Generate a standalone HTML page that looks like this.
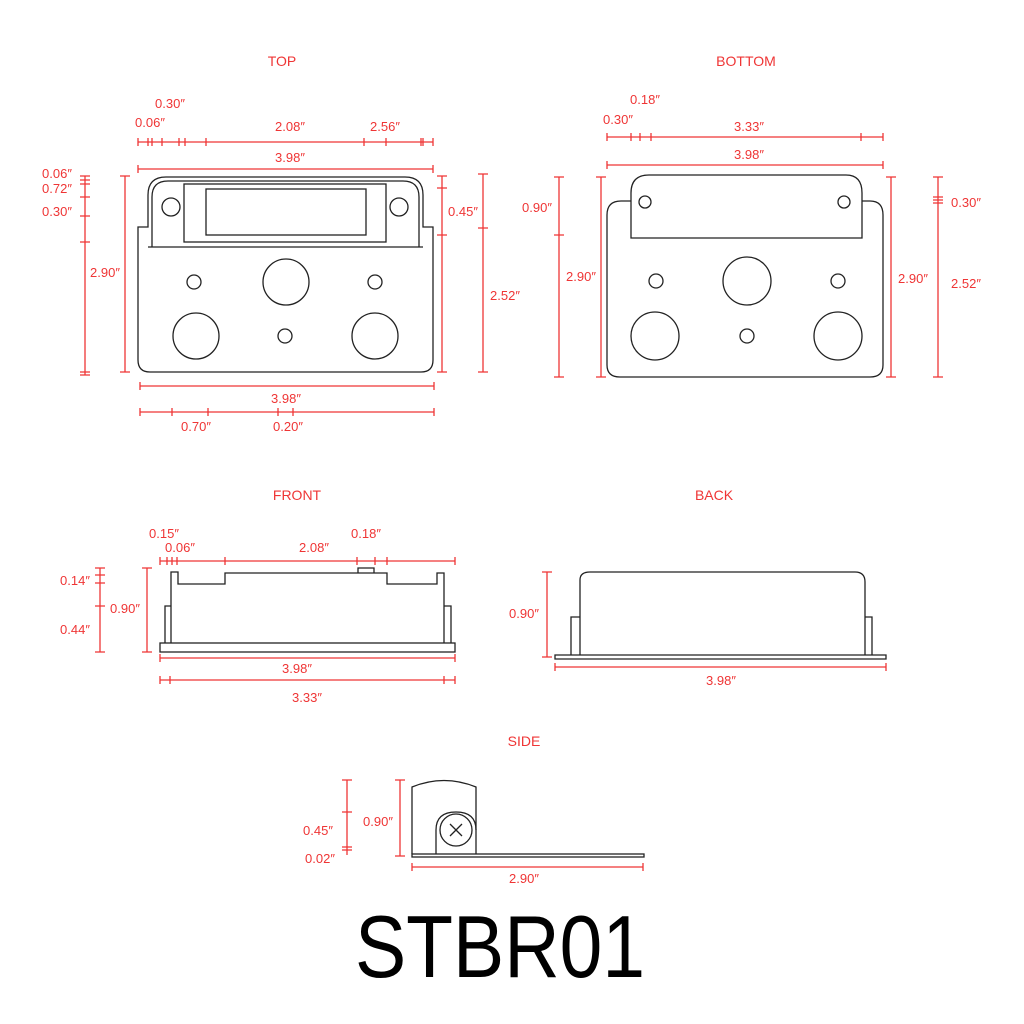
<!DOCTYPE html>
<html><head><meta charset="utf-8"><style>
html,body{margin:0;padding:0;background:#fff;width:1024px;height:1024px;overflow:hidden}
svg{display:block}
.r{stroke:#ef3535;stroke-width:1.3;fill:none}
.k{stroke:#222;stroke-width:1.3;fill:none}
text{font-family:"Liberation Sans",sans-serif;fill:#ef3535;font-size:13px;text-anchor:middle}
.t{font-size:14px}
</style></head><body>
<svg width="1024" height="1024" viewBox="0 0 1024 1024" xmlns="http://www.w3.org/2000/svg">
<!-- TITLES -->
<text class="t" x="282" y="66">TOP</text>
<text class="t" x="746" y="66">BOTTOM</text>
<text class="t" x="297" y="500">FRONT</text>
<text class="t" x="714" y="500">BACK</text>
<text class="t" x="524" y="746">SIDE</text>

<!-- TOP VIEW -->
<g class="k">
<path d="M138 227 H148 V195 Q148 177 166 177 H405 Q423 177 423 195 V227 H433 V360 Q433 372 421 372 H150 Q138 372 138 360 Z"/>
<path d="M152 247 V197 Q152 181 168 181 H403 Q419 181 419 197 V247"/>
<line x1="148" y1="247" x2="423" y2="247"/>
<rect x="184" y="184" width="202" height="58"/>
<rect x="206" y="189" width="160" height="46"/>
<circle cx="171" cy="207" r="9"/><circle cx="399" cy="207" r="9"/>
<circle cx="194" cy="282" r="7"/><circle cx="286" cy="282" r="23"/><circle cx="375" cy="282" r="7"/>
<circle cx="196" cy="336" r="23"/><circle cx="285" cy="336" r="7"/><circle cx="375" cy="336" r="23"/>
</g>
<g class="r">
<line x1="138" y1="142" x2="433" y2="142"/>
<path d="M138 138v8M148 138v8M152 138v8M162 138v8M179 138v8M185 138v8M206 138v8M364 138v8M386 138v8M421 138v8M423 138v8M433 138v8"/>
<line x1="138" y1="169" x2="433" y2="169"/><path d="M138 165v8M433 165v8"/>
<line x1="85" y1="176" x2="85" y2="375"/>
<path d="M80 176h10M80 180h10M80 184h10M80 197h10M80 216h10M80 242h10M80 372h10M80 375h10"/>
<line x1="125" y1="176" x2="125" y2="372"/><path d="M120 176h10M120 372h10"/>
<line x1="442" y1="176" x2="442" y2="372"/><path d="M437 176h10M437 188h10M437 235h10M437 372h10"/>
<line x1="483" y1="174" x2="483" y2="372"/><path d="M478 174h10M478 228h10M478 372h10"/>
<line x1="140" y1="386" x2="434" y2="386"/><path d="M140 382v8M434 382v8"/>
<line x1="140" y1="412" x2="434" y2="412"/><path d="M140 408v8M172 408v8M208 408v8M278 408v8M293 408v8M434 408v8"/>
</g>
<text x="170" y="108">0.30″</text>
<text x="150" y="127">0.06″</text>
<text x="290" y="131">2.08″</text>
<text x="385" y="131">2.56″</text>
<text x="290" y="162">3.98″</text>
<text x="57" y="178">0.06″</text>
<text x="57" y="193">0.72″</text>
<text x="57" y="216">0.30″</text>
<text x="105" y="277">2.90″</text>
<text x="463" y="216">0.45″</text>
<text x="505" y="300">2.52″</text>
<text x="286" y="403">3.98″</text>
<text x="196" y="431">0.70″</text>
<text x="288" y="431">0.20″</text>

<!-- BOTTOM VIEW -->
<g class="k">
<path d="M631 201 H621 Q607 201 607 215 V365 Q607 377 620 377 H870 Q883 377 883 365 V215 Q883 201 870 201 H862"/>
<path d="M631 238 V193 Q631 175 649 175 H846 Q862 175 862 193 V238 Z"/>
<circle cx="645" cy="202" r="6"/><circle cx="844" cy="202" r="6"/>
<circle cx="656" cy="281" r="7"/><circle cx="747" cy="281" r="24"/><circle cx="838" cy="281" r="7"/>
<circle cx="655" cy="336" r="24"/><circle cx="747" cy="336" r="7"/><circle cx="838" cy="336" r="24"/>
</g>
<g class="r">
<line x1="607" y1="137" x2="883" y2="137"/><path d="M607 133v8M631 133v8M640 133v8M651 133v8M861 133v8M883 133v8"/>
<line x1="607" y1="165" x2="883" y2="165"/><path d="M607 161v8M883 161v8"/>
<line x1="559" y1="177" x2="559" y2="377"/><path d="M554 177h10M554 235h10M554 377h10"/>
<line x1="601" y1="177" x2="601" y2="377"/><path d="M596 177h10M596 377h10"/>
<line x1="891" y1="177" x2="891" y2="377"/><path d="M886 177h10M886 377h10"/>
<line x1="938" y1="177" x2="938" y2="377"/><path d="M933 177h10M933 197h10M933 200h10M933 203h10M933 377h10"/>
</g>
<text x="645" y="104">0.18″</text>
<text x="618" y="124">0.30″</text>
<text x="749" y="131">3.33″</text>
<text x="749" y="159">3.98″</text>
<text x="537" y="212">0.90″</text>
<text x="581" y="281">2.90″</text>
<text x="913" y="283">2.90″</text>
<text x="966" y="207">0.30″</text>
<text x="966" y="288">2.52″</text>

<!-- FRONT VIEW -->
<g class="k">
<rect x="160" y="643" width="295" height="9"/>
<path d="M171 643 V572 H178 V584 H225 V573 H387 V584 H437 V573 H444 V643"/>
<path d="M165 643 V606 H171 M444 606 H451 V643"/>
<path d="M358 573 V568 H374 V573"/>
</g>
<g class="r">
<line x1="160" y1="561" x2="455" y2="561"/>
<path d="M160 557v8M167 557v8M172 557v8M177 557v8M225 557v8M357 557v8M375 557v8M387 557v8M455 557v8"/>
<line x1="100" y1="568" x2="100" y2="652"/><path d="M95 568h10M95 575h10M95 583h10M95 606h10M95 652h10"/>
<line x1="147" y1="568" x2="147" y2="652"/><path d="M142 568h10M142 652h10"/>
<line x1="160" y1="658" x2="455" y2="658"/><path d="M160 654v8M455 654v8"/>
<line x1="160" y1="680" x2="455" y2="680"/><path d="M160 676v8M170 676v8M444 676v8M455 676v8"/>
</g>
<text x="164" y="538">0.15″</text>
<text x="180" y="552">0.06″</text>
<text x="314" y="552">2.08″</text>
<text x="366" y="538">0.18″</text>
<text x="75" y="585">0.14″</text>
<text x="125" y="613">0.90″</text>
<text x="75" y="634">0.44″</text>
<text x="297" y="673">3.98″</text>
<text x="307" y="702">3.33″</text>

<!-- BACK VIEW -->
<g class="k">
<path d="M580 655 V580 Q580 572 590 572 H855 Q865 572 865 582 V655"/>
<path d="M555 655 H886 V659 H555 Z"/>
<path d="M571 655 V617 H580 M865 617 H872 V655"/>
</g>
<g class="r">
<line x1="547" y1="572" x2="547" y2="657"/><path d="M542 572h10M542 657h10"/>
<line x1="555" y1="667" x2="886" y2="667"/><path d="M555 663v8M886 663v8"/>
</g>
<text x="524" y="618">0.90″</text>
<text x="721" y="685">3.98″</text>

<!-- SIDE VIEW -->
<g class="k">
<path d="M412 854 V787 Q444 774 476 787 V854"/>
<rect x="412" y="854" width="232" height="3"/>
<path d="M436 854 V830 Q436 812 456 812 Q476 812 476 830"/>
<circle cx="456" cy="830" r="16"/>
<path d="M450 824 L462 836 M462 824 L450 836"/>
</g>
<g class="r">
<line x1="347" y1="780" x2="347" y2="855"/><path d="M342 780h10M342 812h10M342 847h10M342 850h10"/>
<line x1="400" y1="780" x2="400" y2="856"/><path d="M395 780h10M395 856h10"/>
<line x1="412" y1="867" x2="643" y2="867"/><path d="M412 863v8M643 863v8"/>
</g>
<text x="318" y="835">0.45″</text>
<text x="320" y="863">0.02″</text>
<text x="378" y="826">0.90″</text>
<text x="524" y="883">2.90″</text>

<text x="500" y="977" style="fill:#000;font-size:88px" textLength="290" lengthAdjust="spacingAndGlyphs">STBR01</text>
</svg>
</body></html>
